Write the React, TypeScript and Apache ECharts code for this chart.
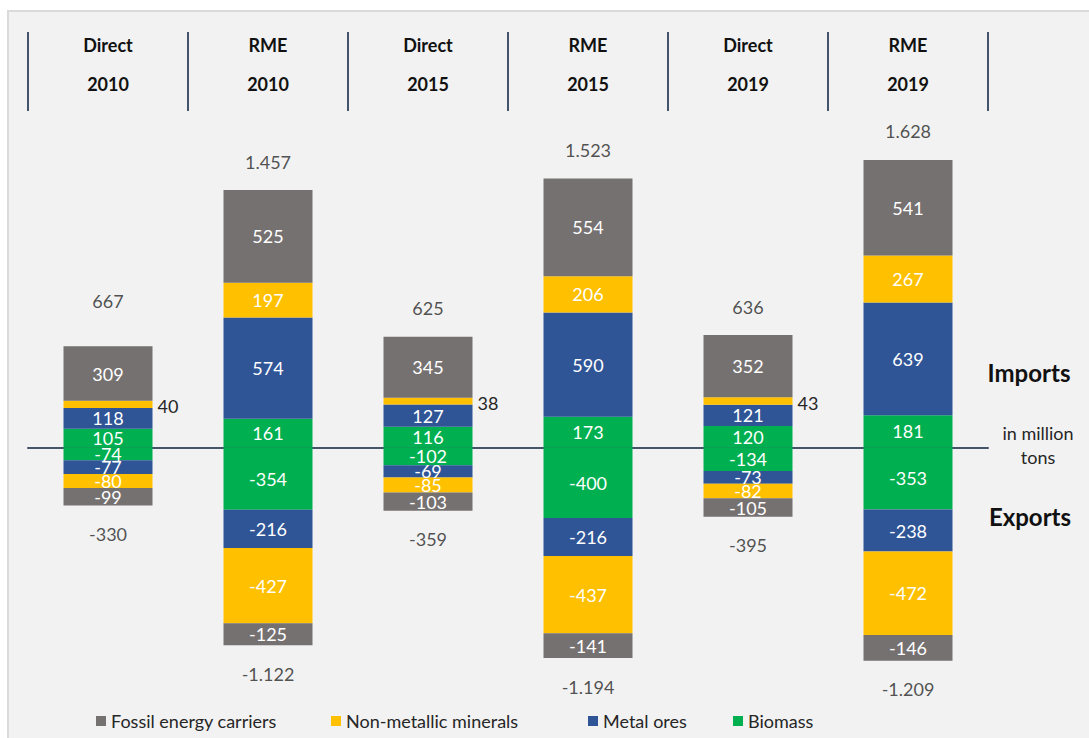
import React, { useEffect, useRef } from "react";
import * as echarts from "echarts";

// Column headers
const headerKinds = ["Direct", "RME", "Direct", "RME", "Direct", "RME"];
const headerYears = ["2010", "2010", "2015", "2015", "2019", "2019"];

// Material flows in million tons (imports positive, exports negative)
const fossilImports = [309, 525, 345, 554, 352, 541];
const nonMetallicImports = [40, 197, 38, 206, 43, 267];
const metalImports = [118, 574, 127, 590, 121, 639];
const biomassImports = [105, 161, 116, 173, 120, 181];

const biomassExports = [-74, -354, -102, -400, -134, -353];
const metalExports = [-77, -216, -69, -216, -73, -238];
const nonMetallicExports = [-80, -427, -85, -437, -82, -472];
const fossilExports = [-99, -125, -103, -141, -105, -146];

// Published totals per column
const importTotals = [667, 1457, 625, 1523, 636, 1628];
const exportTotals = [-330, -1122, -359, -1194, -395, -1209];

const legendNames = ["Fossil energy carriers", "Non-metallic minerals", "Metal ores", "Biomass"];
// icon position of each legend entry
const legendLefts = [96, 331, 588, 733];
const colors = {
  fossil: "#767171",
  nonMetallic: "#ffc000",
  metal: "#2f5597",
  biomass: "#00b050",
};

const FONT = "Lato, 'Open Sans', sans-serif";
const TEXT_DARK = "#262626";

const W = 1089;
const H = 738;
const GRID_LEFT = 28;
const GRID_RIGHT = 101;
const GRID_TOP = 111;
const GRID_BOTTOM = 43.6;

// German-style number formatting: 1457 -> "1.457"
function fmt(v: number): string {
  const sign = v < 0 ? "-" : "";
  const s = String(Math.abs(Math.round(v)));
  return sign + s.replace(/\B(?=(\d{3})+(?!\d))/g, ".");
}

const categories = headerKinds.map((k, i) => `${k}\n${headerYears[i]}`);

function segmentSeries(name: string, data: number[], color: string, outsideDirect = false) {
  return {
    name,
    type: "bar",
    stack: "flows",
    barWidth: 89,
    xAxisIndex: 0,
    itemStyle: { color },
    label: {
      show: true,
      position: "inside",
      color: "#ffffff",
      fontFamily: FONT,
      fontSize: 18,
      formatter: (p: any) => fmt(p.value),
    },
    data: data.map((v, i) =>
      outsideDirect && headerKinds[i] === "Direct"
        ? {
            value: v,
            label: { position: "right", distance: 5, color: TEXT_DARK, offset: [0, 2] },
          }
        : v
    ),
  };
}

function totalSeries(data: number[], position: "top" | "bottom") {
  return {
    type: "scatter",
    xAxisIndex: 0,
    symbolSize: 1,
    itemStyle: { color: "transparent" },
    silent: true,
    z: 5,
    label: {
      show: true,
      position,
      distance: 19,
      color: TEXT_DARK,
      fontFamily: FONT,
      fontSize: 18,
      formatter: (p: any) => fmt(p.value),
    },
    data,
  };
}

export default function App() {
  const ref = useRef<HTMLDivElement>(null);

  useEffect(() => {
    document.body.style.margin = "0";
    if (!ref.current) return;
    const chart = echarts.init(ref.current, undefined, { renderer: "svg" });

    chart.setOption({
      animation: false,
      backgroundColor: "transparent",
      textStyle: { fontFamily: FONT },
      grid: { left: GRID_LEFT, right: GRID_RIGHT, top: GRID_TOP, bottom: GRID_BOTTOM },
      legend: legendNames.map((name, i) => ({
        data: [name],
        left: legendLefts[i],
        top: 707,
        padding: [5, 0, 5, 0],
        icon: "rect",
        itemWidth: 10,
        itemHeight: 10,
        textStyle: { fontFamily: FONT, fontSize: 18, color: TEXT_DARK },
        selectedMode: false,
      })),
      xAxis: [
        {
          type: "category",
          data: categories,
          position: "bottom",
          axisLine: { onZero: true, lineStyle: { color: "#44546a", width: 2 } },
          axisTick: { show: false },
          axisLabel: { show: false },
          splitLine: { show: false },
        },
        {
          type: "category",
          data: categories,
          position: "top",
          axisLine: { show: false, onZero: false },
          axisTick: {
            show: true,
            length: 79,
            interval: 0,
            lineStyle: { color: "#44546a", width: 2 },
          },
          axisLabel: {
            interval: 0,
            margin: 8,
            fontFamily: FONT,
            fontSize: 18,
            fontWeight: "bold",
            lineHeight: 39,
            color: "#111111",
          },
          splitLine: { show: false },
        },
      ],
      yAxis: {
        type: "value",
        min: -1400,
        max: 1905,
        show: false,
        splitLine: { show: false },
      },
      series: [
        segmentSeries(legendNames[3], biomassImports, colors.biomass),
        segmentSeries(legendNames[3], biomassExports, colors.biomass),
        segmentSeries(legendNames[2], metalImports, colors.metal),
        segmentSeries(legendNames[2], metalExports, colors.metal),
        segmentSeries(legendNames[1], nonMetallicImports, colors.nonMetallic, true),
        segmentSeries(legendNames[1], nonMetallicExports, colors.nonMetallic),
        segmentSeries(legendNames[0], fossilImports, colors.fossil),
        segmentSeries(legendNames[0], fossilExports, colors.fossil),
        totalSeries(importTotals, "top"),
        totalSeries(exportTotals, "bottom"),
      ],
      graphic: [
        {
          type: "text",
          x: 1029,
          y: 372,
          style: {
            text: "Imports",
            fontFamily: FONT,
            fontSize: 24,
            fontWeight: "bold",
            fill: "#111111",
            align: "center",
            verticalAlign: "middle",
          },
        },
        {
          type: "text",
          x: 1038,
          y: 445,
          style: {
            text: "in million\ntons",
            fontFamily: FONT,
            fontSize: 18,
            lineHeight: 24,
            fill: TEXT_DARK,
            align: "center",
            verticalAlign: "middle",
          },
        },
        {
          type: "text",
          x: 1030,
          y: 516,
          style: {
            text: "Exports",
            fontFamily: FONT,
            fontSize: 24,
            fontWeight: "bold",
            fill: "#111111",
            align: "center",
            verticalAlign: "middle",
          },
        },
      ],
    });

    return () => chart.dispose();
  }, []);

  return (
    <div style={{ position: "relative", width: W, height: H, overflow: "hidden", background: "#ffffff" }}>
      <div
        style={{
          position: "absolute",
          left: 7,
          top: 10,
          width: W + 20,
          height: H + 20,
          background: "#f2f2f2",
          border: "2px solid #dadada",
        }}
      />
      <div ref={ref} style={{ position: "absolute", left: 0, top: 0, width: W, height: H }} />
    </div>
  );
}
